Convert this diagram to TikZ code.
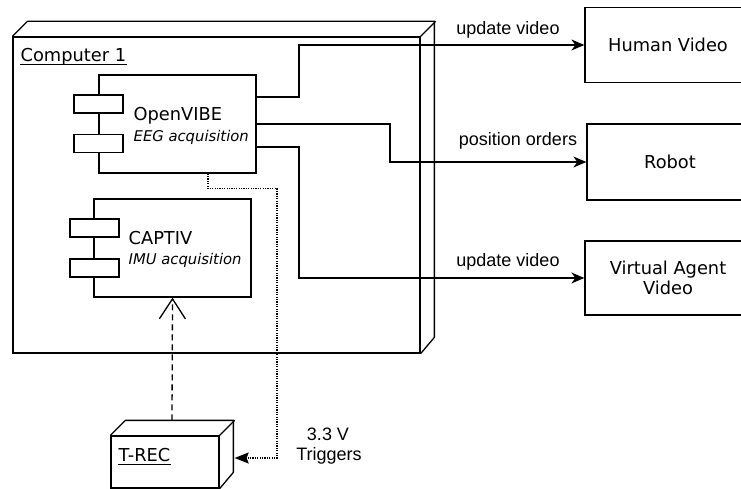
\documentclass[tikz,border=0pt]{standalone}
\usepackage{fontspec}
\setmainfont{DejaVu Sans}
\newfontfamily\labfont{Liberation Sans}
\usetikzlibrary{arrows.meta}
\begin{document}
\begin{tikzpicture}[x=1pt,y=-1pt,line width=1.3pt,
  box/.style={draw,rectangle,inner sep=0pt,fill=white},
  tx/.style={inner sep=0pt,font=\fontsize{17.8}{20.7}\selectfont},
  itx/.style={inner sep=0pt,font=\fontsize{14.8}{18}\selectfont\itshape},
  lb/.style={inner sep=0pt,font=\labfont\fontsize{18}{21}\selectfont},
  arr/.style={-{Stealth[length=13pt,width=11pt,inset=4pt]}},
  dots/.style={line width=1.2pt,dash pattern=on 1.2pt off 1.2pt},
  dsh/.style={dash pattern=on 6pt off 4pt},
  uline/.style={line width=1.1pt}]
\clip (0,0) rectangle (741,489);
% Computer 1 (3D node)
\node[box,minimum width=407pt,minimum height=316pt] (comp) at (216.5,195) {};
\draw (comp.north west) -- ++(15,-15) -- ++(407,0) -- ++(0,316) -- (comp.south east);
\draw (comp.north east) -- ++(15,-15);
\node[tx,anchor=base west] (c1) at (20,61.5) {Computer 1};
\draw[uline] ([yshift=-2.8pt]c1.base west) -- ([yshift=-2.8pt]c1.base east);
% OpenVIBE component
\node[box,minimum width=157pt,minimum height=98pt] (ov) at (177.5,124) {};
\node[box,minimum width=49pt,minimum height=18pt] (ov1) at (98.5,104) {};
\node[box,minimum width=49pt,minimum height=18pt] (ov2) at (98.5,143.5) {};
\node[tx,anchor=base west] (ovt) at (133,121) {OpenVIBE};
\node[itx,anchor=base west] (ovs) at (133,142) {EEG acquisition};
% CAPTIV component
\node[box,minimum width=157pt,minimum height=98pt] (cap) at (172.5,248) {};
\node[box,minimum width=49pt,minimum height=18pt] (cap1) at (94.5,228) {};
\node[box,minimum width=49pt,minimum height=18pt] (cap2) at (94.5,268) {};
\node[tx,anchor=base west] (capt) at (128,244.5) {CAPTIV};
\node[itx,anchor=base west] (caps) at (128,264.5) {IMU acquisition};
% T-REC (3D node)
\node[box,minimum width=108pt,minimum height=52pt] (trec) at (165,462) {};
\draw (trec.north west) -- ++(15,-15) -- ++(108,0) -- ++(0,52) -- (trec.south east);
\draw (trec.north east) -- ++(15,-15);
\node[tx,anchor=base west] (tl) at (118,461.5) {T-REC};
\draw[uline] ([yshift=-2.8pt]tl.base west) -- ([yshift=-2.8pt]tl.base east);
% right boxes
\node[box,minimum width=166pt,minimum height=75pt,font=\fontsize{17.8}{20.7}\selectfont] (hv) at (668,45) {Human Video};
\node[box,minimum width=166pt,minimum height=76pt,font=\fontsize{17.8}{20.7}\selectfont] (robot) at (670,162) {Robot};
\node[box,minimum width=166pt,minimum height=74pt,align=center,font=\fontsize{17.8}{20.7}\selectfont] (va) at (668,278) {Virtual Agent\\Video};
% connectors
\draw[arr] ([yshift=27pt]ov.east) -| (299,45) -- (hv.west);
\draw[arr] (ov.east) -| (390,162) -- (robot.west);
\draw[arr] ([yshift=-23pt]ov.east) -| (299,278) -- (va.west);
\node[lb,anchor=base] (l1) at (508,34.7) {update video};
\node[lb,anchor=base] (l2) at (518,145.3) {position orders};
\node[lb,anchor=base] (l3) at (508,266.7) {update video};
\draw[dots,-{Stealth[length=14pt,width=11pt,inset=2pt]}] ([xshift=30.5pt]ov.south) -- ++(0,15) -| (277,458) -- ([xshift=15pt,yshift=4pt]trec.east);
\node[lb,anchor=base] (t1) at (328,440) {3.3 V};
\node[lb,anchor=base] (t2) at (329,460.7) {Triggers};
\draw[dsh,-{Straight Barb[length=20pt,width=26pt]}] ([xshift=7pt,yshift=15pt]trec.north) -- (cap.south);
\end{tikzpicture}
\end{document}
